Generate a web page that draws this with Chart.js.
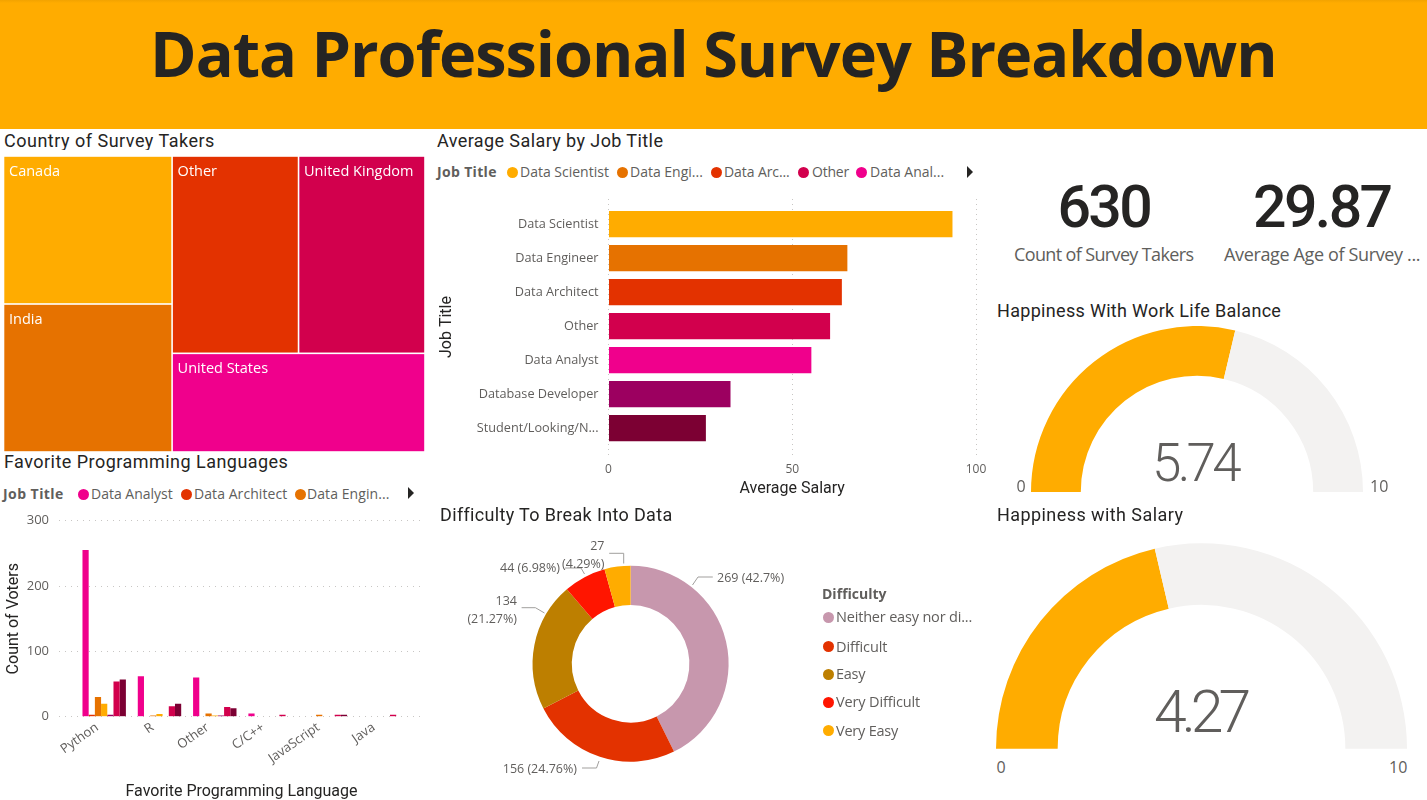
<!DOCTYPE html>
<html>
<head>
<meta charset="utf-8">
<title>Data Professional Survey Breakdown</title>
<script src="https://cdn.jsdelivr.net/npm/chart.js@4"></script>
<style>
  html, body { margin: 0; padding: 0; background: #fff; overflow: hidden; }
  #page { position: relative; width: 1427px; height: 800px; overflow: hidden; }
  #header { position: absolute; left: 0; top: 0; width: 1427px; height: 129px; background: linear-gradient(#F2A300 0, #FFAC00 3px); }
  canvas { position: absolute; }
  .txt { position: absolute; white-space: nowrap; line-height: 1; z-index: 3; }
  .title { z-index: 1; }
  .dot { position: absolute; width: 11px; height: 11px; border-radius: 50%; z-index: 3; }
  .arrow { position: absolute; width: 0; height: 0; border-left: 6px solid #252423; border-top: 6px solid transparent; border-bottom: 6px solid transparent; z-index: 3; }
</style>
</head>
<body>
<div id="page">
  <div id="header"></div>
  <canvas id="treemapChart" width="430" height="303" style="left:0;top:150px;z-index:2;background:#fff"></canvas>
  <canvas id="languageChart" width="440" height="295" style="left:0;top:505px"></canvas>
  <canvas id="salaryChart" width="560" height="310" style="left:430px;top:190px"></canvas>
  <canvas id="difficultyChart" width="400" height="300" style="left:430px;top:500px"></canvas>
  <canvas id="workLifeGauge" width="332" height="166" style="left:1031px;top:326px"></canvas>
  <canvas id="salaryGauge" width="411" height="206" style="left:996px;top:543px"></canvas>
</div>

<script>
// --- Data ---
const countries = ['Canada', 'India', 'Other', 'United Kingdom', 'United States'];
const countryShares = [20, 20, 20, 20, 20];

const jobTitles = ['Data Scientist', 'Data Engineer', 'Data Architect', 'Other', 'Data Analyst', 'Database Developer', 'Student/Looking/N...'];
const averageSalaries = [93.6, 65.0, 63.5, 60.3, 55.2, 33.2, 26.5];

const languages = ['Python', 'R', 'Other', 'C/C++', 'JavaScript', 'Java'];
const votesDataAnalyst = [255, 62, 60, 5, 0, 0];
const votesDataArchitect = [3, 0, 0, 0, 0, 0];
const votesDataEngineer = [30, 2, 5, 0, 3, 0];
const votesDataScientist = [20, 4, 2, 0, 0, 0];
const votesDatabaseDeveloper = [3, 0, 2, 0, 0, 0];
const votesOther = [54, 16, 15, 3, 3, 3];
const votesStudent = [57, 20, 13, 0, 3, 0];

const difficulties = ['Neither easy nor difficult', 'Difficult', 'Easy', 'Very Difficult', 'Very Easy'];
const difficultyCounts = [269, 156, 134, 44, 27];

const workLifeHappiness = [5.74, 4.26];
const salaryHappiness = [4.27, 5.73];

// --- Colours ---
const YELLOW = '#FFAC00', ORANGE = '#E67200', RED = '#E33200', CRIMSON = '#D2004D';
const PINK = '#F0008C', PURPLE = '#9C0060', MAROON = '#7C0033';
const GAUGE_TRACK = '#F3F2F1';
const TEXT_DARK = '#252423', TEXT_GREY = '#605E5C';
const GRID_DOTS = '#C8C6C4';

const UI_FONT = '"Open Sans", sans-serif';
const HEAD_FONT = 'Roboto, sans-serif';

Chart.defaults.font.family = UI_FONT;
Chart.defaults.animation = false;
Chart.defaults.responsive = false;
Chart.defaults.plugins.legend.display = false;
Chart.defaults.plugins.tooltip.enabled = false;

// --- DOM text helpers ---
const page = document.getElementById('page');

// y is the vertical centre of the text; w (optional) fits the width with letter spacing
function addText(text, x, y, size, opts) {
    const o = opts || {};
    const el = document.createElement('div');
    el.className = 'txt' + (o.cls ? ' ' + o.cls : '');
    el.textContent = text;
    el.style.fontFamily = o.font || UI_FONT;
    el.style.fontSize = size + 'px';
    el.style.fontWeight = o.weight || 400;
    el.style.color = o.color || TEXT_GREY;
    page.appendChild(el);
    if (o.w) {
        el.style.letterSpacing = ((o.w - el.offsetWidth) / text.length) + 'px';
    }
    const width = el.offsetWidth;
    const left = o.align === 'center' ? x - width / 2 : o.align === 'right' ? x - width : x;
    el.style.left = left + 'px';
    el.style.top = (y - el.offsetHeight / 2) + 'px';
}

function addDot(cx, cy, color) {
    const el = document.createElement('div');
    el.className = 'dot';
    el.style.left = (cx - 5.5) + 'px';
    el.style.top = (cy - 5.5) + 'px';
    el.style.background = color;
    page.appendChild(el);
}

function addArrow(x, cy) {
    const el = document.createElement('div');
    el.className = 'arrow';
    el.style.left = x + 'px';
    el.style.top = (cy - 6) + 'px';
    page.appendChild(el);
}

function addTitle(text, x, y, w) {
    addText(text, x, y, 18, { font: HEAD_FONT, color: TEXT_DARK, w: w, cls: 'title' });
}

// --- Static text ---
addText('Data Professional Survey Breakdown', 713.5, 52, 63, { weight: 700, color: TEXT_DARK, align: 'center', w: 1127 });

addTitle('Country of Survey Takers', 4, 141, 211);
addTitle('Average Salary by Job Title', 437, 141, 226);
addTitle('Favorite Programming Languages', 4, 462, 284);
addTitle('Difficulty To Break Into Data', 440, 515, 231);
addTitle('Happiness With Work Life Balance', 997, 311, 284);
addTitle('Happiness with Salary', 997, 515, 186);

// Legend above the salary bars
addText('Job Title', 437, 172, 14, { weight: 700, w: 60 });
addDot(512, 172, YELLOW);
addText('Data Scientist', 520, 172, 14, { w: 89 });
addDot(622, 172, ORANGE);
addText('Data Engi...', 630, 172, 14, { w: 73 });
addDot(716, 172, RED);
addText('Data Arc...', 724, 172, 14, { w: 66 });
addDot(803, 172, CRIMSON);
addText('Other', 812, 172, 14, { w: 37 });
addDot(861, 172, PINK);
addText('Data Anal...', 870, 172, 14, { w: 74 });
addArrow(967, 172);

// Legend above the language bars
addText('Job Title', 3, 494, 14, { weight: 700, w: 61 });
addDot(83, 494, PINK);
addText('Data Analyst', 91, 494, 14, { w: 82 });
addDot(186, 494, RED);
addText('Data Architect', 194, 494, 14, { w: 93 });
addDot(300, 494, ORANGE);
addText('Data Engin...', 307, 494, 14, { w: 82 });
addArrow(408, 493);

// Legend next to the donut
addText('Difficulty', 822, 594, 14, { weight: 700, w: 64 });
addDot(828, 617, '#C797AD');
addText('Neither easy nor di...', 836, 617, 14.5, { w: 136 });
addDot(828, 646, RED);
addText('Difficult', 836, 647, 14.5, { w: 51 });
addDot(828, 674, '#BD7F00');
addText('Easy', 836, 674, 14.5, { w: 29 });
addDot(828, 702, '#FF1500');
addText('Very Difficult', 836, 702, 14.5, { w: 84 });
addDot(828, 730, YELLOW);
addText('Very Easy', 836, 731, 14.5, { w: 62 });

// KPI cards
addText('630', 1104, 206, 59, { font: HEAD_FONT, weight: 500, color: TEXT_DARK, align: 'center', w: 93 });
addText('29.87', 1322, 206, 59, { font: HEAD_FONT, weight: 500, color: TEXT_DARK, align: 'center', w: 138 });
addText('Count of Survey Takers', 1014, 254, 18, { w: 179 });
addText('Average Age of Survey ...', 1224, 254, 18, { w: 196 });

// Gauge captions
addText('5.74', 1195, 463, 53, { font: HEAD_FONT, weight: 300, align: 'center', w: 86 });
addText('0', 1021, 486, 16, { align: 'center' });
addText('10', 1379, 486, 16, { align: 'center' });
addText('4.27', 1200, 711, 59, { font: HEAD_FONT, weight: 300, align: 'center', w: 92 });
addText('0', 1001, 767, 16, { align: 'center' });
addText('10', 1398, 767, 16, { align: 'center' });

// --- Treemap: rectangles placed through the chart's linear scales ---
function treemapCells(values) {
    const total = values.reduce((a, b) => a + b, 0);
    const leftW = (values[0] + values[1]) / total * 100;
    const canadaH = values[0] / (values[0] + values[1]) * 100;
    const rest = values[2] + values[3] + values[4];
    const topH = (values[2] + values[3]) / rest * 100;
    const otherW = values[2] / (values[2] + values[3]) * (100 - leftW);
    return [
        { x0: 0, x1: leftW, y0: 0, y1: canadaH },
        { x0: 0, x1: leftW, y0: canadaH, y1: 100 },
        { x0: leftW, x1: leftW + otherW, y0: 0, y1: topH },
        { x0: leftW + otherW, x1: 100, y0: 0, y1: topH },
        { x0: leftW, x1: 100, y0: topH, y1: 100 }
    ];
}

const treemapColors = [YELLOW, ORANGE, RED, CRIMSON, PINK];

const treemapPlugin = {
    id: 'treemapCells',
    afterDatasetsDraw(chart) {
        const { ctx, scales } = chart;
        treemapCells(countryShares).forEach((c, i) => {
            const left = scales.x.getPixelForValue(c.x0);
            const right = scales.x.getPixelForValue(c.x1);
            const top = scales.y.getPixelForValue(c.y0);
            const bottom = scales.y.getPixelForValue(c.y1);
            ctx.fillStyle = treemapColors[i];
            ctx.fillRect(left + 0.8, top + 0.8, right - left - 1.6, bottom - top - 1.6);
            ctx.fillStyle = '#fff';
            ctx.font = '14.5px ' + UI_FONT;
            ctx.textBaseline = 'middle';
            ctx.fillText(countries[i], left + 5.5, top + 16);
        });
    }
};

new Chart(document.getElementById('treemapChart'), {
    type: 'scatter',
    data: { datasets: [{ data: [], pointRadius: 0 }] },
    options: {
        layout: { padding: { left: 3.5, right: 5, top: 6, bottom: 1 } },
        scales: {
            x: { type: 'linear', display: false, min: 0, max: 100 },
            y: { type: 'linear', display: false, min: 0, max: 100, reverse: true }
        }
    },
    plugins: [treemapPlugin]
});

// --- Clustered columns: favourite language by job title ---
function languageSeries(label, values, color) {
    return {
        label: label,
        data: values.map((v, i) => ({ x: i, y: v })),
        backgroundColor: color,
        categoryPercentage: 0.785,
        barPercentage: 1
    };
}

new Chart(document.getElementById('languageChart'), {
    type: 'bar',
    data: {
        datasets: [
            languageSeries('Data Analyst', votesDataAnalyst, PINK),
            languageSeries('Data Architect', votesDataArchitect, RED),
            languageSeries('Data Engineer', votesDataEngineer, ORANGE),
            languageSeries('Data Scientist', votesDataScientist, YELLOW),
            languageSeries('Database Developer', votesDatabaseDeveloper, PURPLE),
            languageSeries('Other', votesOther, CRIMSON),
            languageSeries('Student/Looking/None', votesStudent, MAROON)
        ]
    },
    options: {
        layout: { padding: { top: 15.7, right: 16 } },
        scales: {
            x: {
                type: 'linear',
                offset: false,
                min: -0.817,
                max: 5.783,
                afterBuildTicks: s => { s.ticks = languages.map((_, i) => ({ value: i })); },
                afterFit: s => { s.height = 83.3; s.paddingRight = 0; s.paddingLeft = 0; },
                grid: { display: false, offset: false },
                border: { display: false },
                ticks: {
                    callback: v => languages[v],
                    autoSkip: false,
                    minRotation: 35,
                    maxRotation: 35,
                    padding: -5,
                    labelOffset: -7,
                    color: TEXT_GREY,
                    font: { size: 13 }
                },
                title: { display: true, text: 'Favorite Programming Language', color: TEXT_DARK, font: { size: 16, family: HEAD_FONT }, padding: { top: 0, bottom: -2 } }
            },
            y: {
                min: 0,
                max: 300,
                afterFit: s => { s.width = 59; s.paddingTop = 0; s.paddingBottom = 0; },
                grid: { color: GRID_DOTS, tickLength: 0 },
                border: { display: false, dash: [1, 5] },
                ticks: { stepSize: 100, padding: 10, color: TEXT_GREY, font: { size: 13 } },
                title: { display: true, text: 'Count of Voters', color: TEXT_DARK, font: { size: 16, family: HEAD_FONT }, padding: { top: 4, bottom: 0 } }
            }
        }
    }
});

// --- Horizontal bars: average salary by job title ---
new Chart(document.getElementById('salaryChart'), {
    type: 'bar',
    data: {
        datasets: [{
            label: 'Average Salary',
            data: averageSalaries.map((v, i) => ({ x: v, y: i })),
            backgroundColor: [YELLOW, ORANGE, RED, CRIMSON, PINK, PURPLE, MAROON],
            categoryPercentage: 0.774,
            barPercentage: 1
        }]
    },
    options: {
        indexAxis: 'y',
        layout: { padding: { top: 9, right: 14 } },
        scales: {
            x: {
                type: 'linear',
                min: 0,
                max: 100,
                afterFit: s => { s.height = 45; s.paddingRight = 0; s.paddingLeft = 0; },
                grid: { color: GRID_DOTS, tickLength: 0 },
                border: { display: false, dash: [1, 4] },
                ticks: { stepSize: 50, padding: 7, color: TEXT_GREY, font: { size: 12 } },
                title: { display: true, text: 'Average Salary', color: TEXT_DARK, font: { size: 16, family: HEAD_FONT }, padding: { top: 0, bottom: 1 } }
            },
            y: {
                type: 'linear',
                offset: false,
                min: -0.741,
                max: 6.789,
                reverse: true,
                afterBuildTicks: s => { s.ticks = jobTitles.map((_, i) => ({ value: i })); },
                afterFit: s => { s.width = 178.5; s.paddingTop = 0; s.paddingBottom = 0; },
                grid: { display: false, offset: false },
                border: { display: false },
                ticks: { callback: v => jobTitles[v], autoSkip: false, padding: 2, color: TEXT_GREY, font: { size: 12.7 } },
                title: { display: true, text: 'Job Title', color: TEXT_DARK, font: { size: 16, family: HEAD_FONT }, padding: { top: 7, bottom: 0 } }
            }
        }
    }
});

// --- Donut: difficulty, with leader lines and labels ---
const donutLabels = [
    { lines: ['269 (42.7%)'], x: 717, y: [578], align: 'left', leader: [[692.5, 585], [698, 577], [712.8, 577]] },
    { lines: ['156 (24.76%)'], x: 577, y: [769], align: 'right', leader: [[599, 761], [596.5, 768], [582, 768]] },
    { lines: ['134', '(21.27%)'], x: 517, y: [601, 619], align: 'right', leader: [[544.5, 613], [535.4, 607.7], [521.6, 607.7]] },
    { lines: ['44 (6.98%)'], x: 560, y: [568], align: 'right', leader: [[584.5, 574], [581, 568], [565, 568]] },
    { lines: ['27', '(4.29%)'], x: 604.5, y: [546, 564], align: 'right', leader: [[623.7, 563.5], [623.7, 553.3], [609.2, 553.3]] }
];

const donutLabelPlugin = {
    id: 'donutLabels',
    afterDraw(chart) {
        const { ctx, canvas } = chart;
        const ox = canvas.offsetLeft, oy = canvas.offsetTop;
        ctx.save();
        ctx.font = '12.5px ' + UI_FONT;
        ctx.textBaseline = 'middle';
        donutLabels.forEach(l => {
            ctx.strokeStyle = '#A19F9D';
            ctx.lineWidth = 1;
            ctx.beginPath();
            l.leader.forEach((p, i) => {
                if (i === 0) ctx.moveTo(p[0] - ox, p[1] - oy);
                else ctx.lineTo(p[0] - ox, p[1] - oy);
            });
            ctx.stroke();
            ctx.fillStyle = TEXT_GREY;
            ctx.textAlign = l.align;
            l.lines.forEach((t, i) => ctx.fillText(t, l.x - ox, l.y[i] - oy));
        });
        ctx.restore();
    }
};

new Chart(document.getElementById('difficultyChart'), {
    type: 'doughnut',
    data: {
        labels: difficulties,
        datasets: [{
            data: difficultyCounts,
            backgroundColor: ['#C797AD', RED, '#BD7F00', '#FF1500', YELLOW],
            borderWidth: 0
        }]
    },
    options: {
        cutout: '60%',
        layout: { padding: { left: 102.6, right: 101.4, top: 65.7, bottom: 38.3 } }
    },
    plugins: [donutLabelPlugin]
});

// --- Half-doughnut gauges ---
function makeGauge(id, values) {
    new Chart(document.getElementById(id), {
        type: 'doughnut',
        data: {
            labels: ['Value', 'Remainder'],
            datasets: [{ data: values, backgroundColor: [YELLOW, GAUGE_TRACK], borderWidth: 0 }]
        },
        options: { rotation: -90, circumference: 180, cutout: '70%' }
    });
}

makeGauge('workLifeGauge', workLifeHappiness);
makeGauge('salaryGauge', salaryHappiness);
</script>
</body>
</html>
